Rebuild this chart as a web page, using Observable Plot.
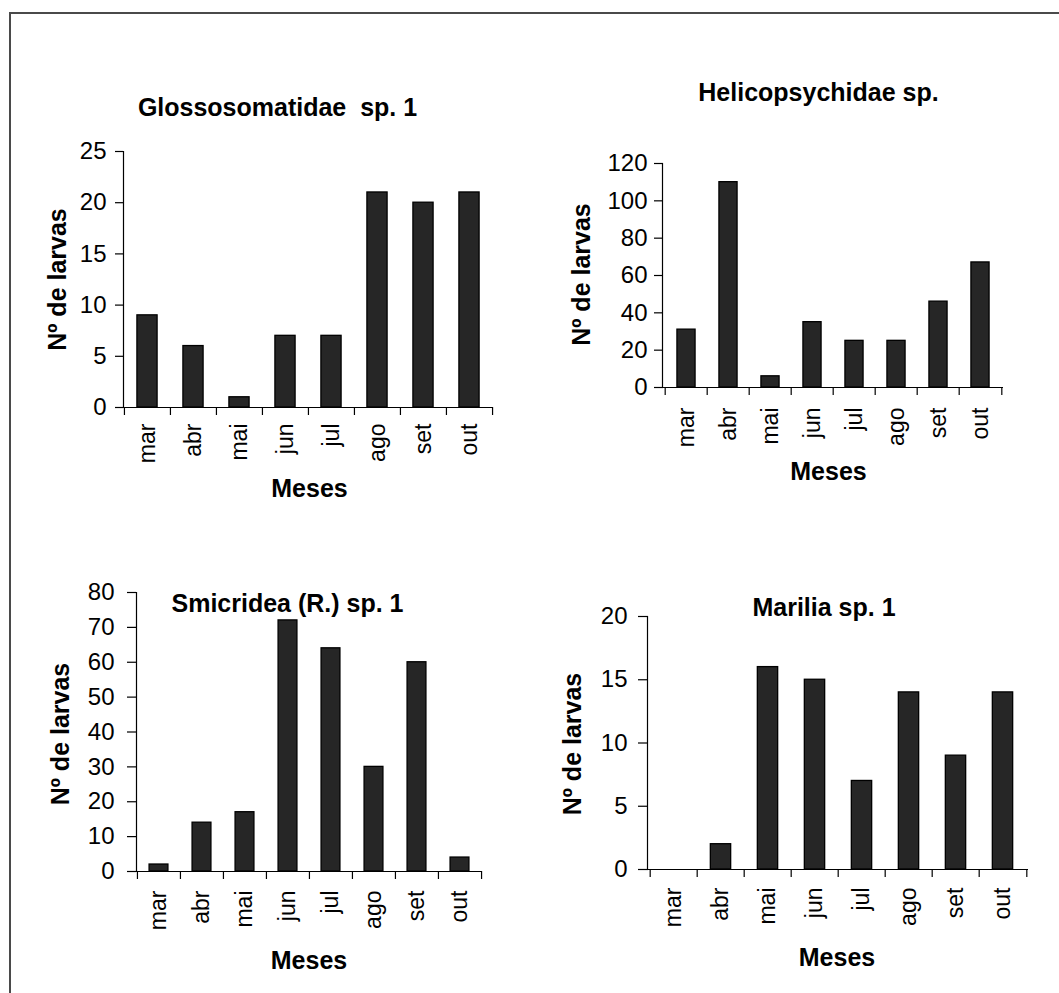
<!DOCTYPE html>
<html>
<head>
<meta charset="utf-8">
<script src="https://cdn.jsdelivr.net/npm/d3@7"></script>
<script src="https://cdn.jsdelivr.net/npm/@observablehq/plot@0.6"></script>
<style>
html, body { margin: 0; padding: 0; background: #fff; overflow: hidden; }
#wrap { position: relative; width: 1059px; height: 993px; overflow: hidden; background: #fff;
  font-family: "Liberation Sans", Arial, sans-serif; }
#border { position: absolute; left: 9px; top: 12px; width: 1200px; height: 1200px;
  border-left: 2px solid #4a4a4a; border-top: 2px solid #4a4a4a; }
</style>
</head>
<body>
<div id="wrap"><div id="border"></div></div>
<script>
// ---- data ----
const months = ["mar", "abr", "mai", "jun", "jul", "ago", "set", "out"];
const glossosomatidae = [9, 6, 1, 7, 7, 21, 20, 21];
const helicopsychidae = [31, 110, 6, 35, 25, 25, 46, 67];
const smicridea = [2, 14, 17, 72, 64, 30, 60, 4];
const marilia = [0, 2, 16, 15, 7, 14, 9, 14];
const titles = ["Glossosomatidae  sp. 1", "Helicopsychidae sp.", "Smicridea (R.) sp. 1", "Marilia sp. 1"];
const yTitle = "Nº de larvas";
const xTitle = "Meses";

// ---- layout (positions / styles only) ----
const panels = [
  {values: glossosomatidae, title: titles[0], yMax: 25, yStep: 5,
   left: 0, top: 0, width: 530, height: 500, ml: 123, mr: 38, mt: 151, mb: 93,
   ytick: 8, ypad: 9, xpad: 16,
   tdx: -30.5, tdy: -44, xdx: 1.5, xdy: 81, ydx: -66, ydy: 0},
  {values: helicopsychidae, title: titles[1], yMax: 120, yStep: 20,
   left: 530, top: 0, width: 529, height: 500, ml: 132, mr: 56, mt: 163, mb: 113,
   ytick: 8, ypad: 7, xpad: 20,
   tdx: -14.5, tdy: -71, xdx: -4.5, xdy: 84, ydx: -80.5, ydy: -1},
  {values: smicridea, title: titles[2], yMax: 80, yStep: 10,
   left: 0, top: 500, width: 530, height: 493, ml: 136, mr: 49, mt: 92, mb: 122,
   ytick: 9, ypad: 13, xpad: 19,
   tdx: -21.5, tdy: 11, xdx: 0, xdy: 89, ydx: -76, ydy: 2},
  {values: marilia, title: titles[3], yMax: 20, yStep: 5,
   left: 530, top: 500, width: 529, height: 493, ml: 117, mr: 31, mt: 116, mb: 124,
   ytick: 9, ypad: 11, xpad: 18,
   tdx: -14, tdy: -9, xdx: -1, xdy: 88, ydx: -75, ydy: 1}
];

const FONT = "'Liberation Sans', Arial, sans-serif";

function makePanel(o) {
  const iw = o.width - o.ml - o.mr;
  const step = iw / months.length;
  const data = months.map((m, i) => ({month: m, n: o.values[i]}));
  const bold = {fontSize: 25, fontWeight: "bold", textAnchor: "middle", lineAnchor: "middle", fill: "#000"};
  const plot = Plot.plot({
    width: o.width, height: o.height,
    marginLeft: o.ml, marginRight: o.mr, marginTop: o.mt, marginBottom: o.mb,
    style: {fontFamily: FONT, fontSize: "24px", color: "#000", background: "transparent", overflow: "visible"},
    x: {domain: months, padding: 0, label: null},
    y: {domain: [0, o.yMax], label: null},
    marks: [
      Plot.barY(data, {x: "month", y: "n", fill: "#262626", stroke: "#000", strokeWidth: 1.3,
        insetLeft: step * 0.28, insetRight: step * 0.28}),
      Plot.ruleY([0], {stroke: "#000", strokeWidth: 1.2}),
      Plot.frame({anchor: "left", stroke: "#000", strokeWidth: 1.2}),
      Plot.axisY({ticks: d3.range(0, o.yMax + 1e-9, o.yStep), tickSize: o.ytick, tickPadding: o.ypad,
        fontSize: 24, label: null, stroke: "#000", strokeWidth: 1.2, fill: "#000"}),
      Plot.axisX({tickSize: 0, tickPadding: o.xpad, tickRotate: -90, fontSize: 23, label: null, fill: "#000"}),
      Plot.axisX(months, {tickSize: 8, tickFormat: () => "", dx: -step / 2, label: null, stroke: "#000", strokeWidth: 1.2}),
      Plot.axisX([months[months.length - 1]], {tickSize: 8, tickFormat: () => "", dx: step / 2, label: null, stroke: "#000", strokeWidth: 1.2}),
      Plot.text([o.title], {text: d => d, frameAnchor: "top", dx: o.tdx, dy: o.tdy, ...bold}),
      Plot.text([xTitle], {text: d => d, frameAnchor: "bottom", dx: o.xdx, dy: o.xdy, ...bold}),
      Plot.text([yTitle], {text: d => d, frameAnchor: "left", dx: o.ydx, dy: o.ydy, rotate: -90, ...bold})
    ]
  });
  plot.style.position = "absolute";
  plot.style.left = o.left + "px";
  plot.style.top = o.top + "px";
  return plot;
}

const wrap = document.getElementById("wrap");
for (const p of panels) wrap.appendChild(makePanel(p));
</script>
</body>
</html>
